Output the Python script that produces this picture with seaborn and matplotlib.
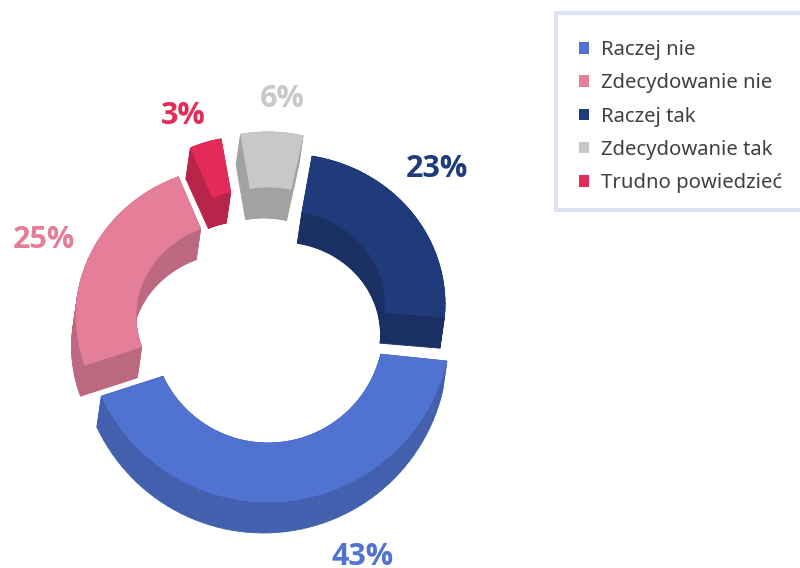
import numpy as np
import matplotlib
matplotlib.use('Agg')
import matplotlib.pyplot as plt
from matplotlib.patches import Patch, Polygon, Rectangle
import seaborn as sns

"""
Data
"""
labels = ['Raczej nie', 'Zdecydowanie nie', 'Raczej tak', 'Zdecydowanie tak', 'Trudno powiedzieć']
values = [43, 25, 23, 6, 3]
top_colors = ['#5073D2', '#E57E98', '#1F3B7C', '#C8C8C8', '#E42B57']
wall_colors = ['#4360AE', '#BC6880', '#1A2F63', '#A2A2A2', '#B8244A']

# order of the slices going clockwise round the ring
ring_order = [0, 1, 4, 3, 2]

"""
Look of each slice, same order as labels. The picture is a tilted 3D donut with
perspective, so every slice gets its own centre and radii (pixels)
"""
centers = [(268, 318), (239, 316), (285, 304), (268, 291), (244, 269)]
inner_centers = [(268, 327), (239, 316), (285, 304), (268, 291), (244, 269)]
outer_radii = [(184, 184), (163, 150), (160, 150), (160, 159), (134, 132)]
inner_radii = [(116, 116), (103, 94), (100, 93), (105, 104), (78, 78)]
fills = [0.913, 0.97, 1.03, 1.04, 1.27]
mid_shift = [-1.3, 0.8, 1.7, 0.5, 2.4]

DEPTH = (-4.5, 31)
START = -5.5


def slice_outline(i, mid, span):
    th = np.radians(np.linspace(mid + span / 2, mid - span / 2, 60))
    outer = np.column_stack([centers[i][0] + outer_radii[i][0] * np.cos(th),
                             centers[i][1] - outer_radii[i][1] * np.sin(th)])
    inner = np.column_stack([inner_centers[i][0] + inner_radii[i][0] * np.cos(th[::-1]),
                             inner_centers[i][1] - inner_radii[i][1] * np.sin(th[::-1])])
    return np.vstack([outer, inner])


sns.set_theme(style='white')
plt.rcParams['font.family'] = ['Noto Sans', 'DejaVu Sans']

fig = plt.figure(figsize=(8, 5.68), dpi=100)
ax = fig.add_axes([0, 0, 1, 1])
ax.set_xlim(0, 800)
ax.set_ylim(568, 0)
ax.axis('off')

"""
Donut with extruded walls
"""
angle = START
slices = {}
for i in ring_order:
    full = values[i] * 3.6
    slices[i] = slice_outline(i, angle - full / 2 + mid_shift[i], full * fills[i])
    angle -= full

for i in ring_order:
    pts = slices[i]
    lower = pts + np.array(DEPTH)
    for k in range(len(pts)):
        j = (k + 1) % len(pts)
        quad = [pts[k], pts[j], lower[j], lower[k]]
        ax.add_patch(Polygon(quad, closed=True, facecolor=wall_colors[i], edgecolor=wall_colors[i], linewidth=0.6))

for i in ring_order:
    ax.add_patch(Polygon(slices[i], closed=True, facecolor=top_colors[i], edgecolor=top_colors[i], linewidth=0.5))

"""
Percent labels
"""
label_x = [363, 44, 437, 282, 183]
label_y = [565, 248, 177, 107, 124]
for i in range(len(values)):
    ax.text(label_x[i], label_y[i], f'{values[i]}%', color=top_colors[i], fontsize=22,
            family='Open Sans', fontweight='bold', ha='center', va='baseline')

"""
Legend
"""
ax.add_patch(Rectangle((556, 13), 260, 197, facecolor='white', edgecolor='#DDE2F0', linewidth=3))
handles = [Patch(facecolor=top_colors[i], edgecolor='none', label=labels[i]) for i in range(len(labels))]
ax.legend(handles=handles, loc='upper left', bbox_to_anchor=(579, 40), bbox_transform=ax.transData,
          frameon=False, fontsize=14.6, labelcolor='#404040', handlelength=0.49, handleheight=0.49,
          handletextpad=0.59, labelspacing=0.655, borderpad=0, borderaxespad=0)

fig.savefig('out.png', dpi=100)
plt.close()
